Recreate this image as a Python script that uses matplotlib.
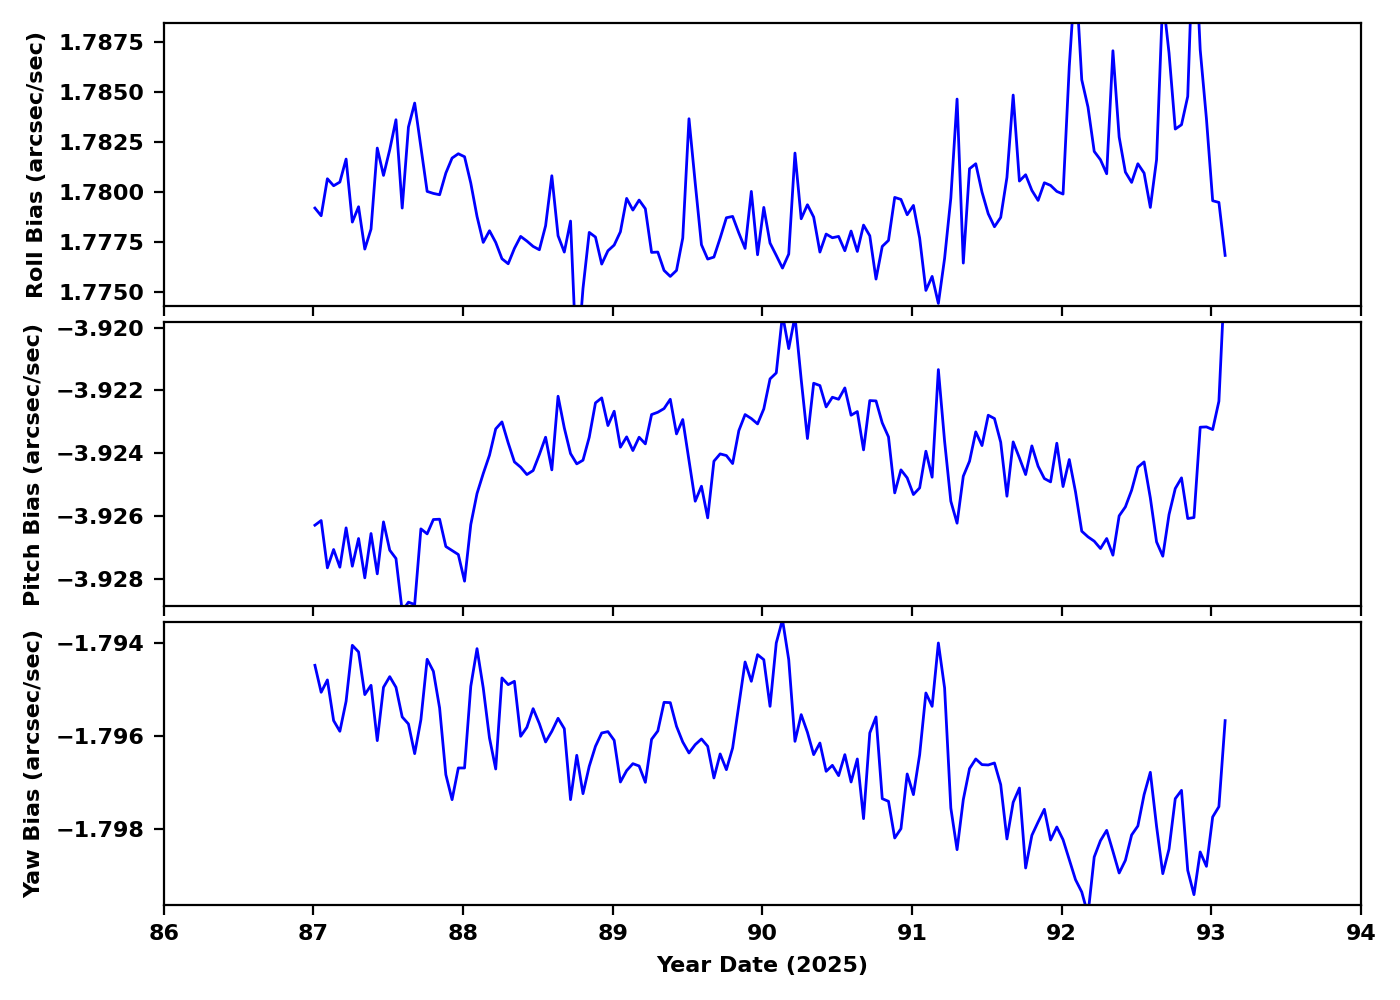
#!/usr/bin/env python3
"""Roll / pitch / yaw gyro bias trend plot"""
import numpy as np
import matplotlib
matplotlib.use("Agg")
import matplotlib.pyplot as plt

# hourly samples starting just after day 87.0
start_day = 87.01
step_day = 1.0 / 24.0

roll = [
    1.779217, 1.778833, 1.780683, 1.780333, 1.780517, 1.781667, 1.778517, 1.779283,
    1.777167, 1.778167, 1.782217, 1.780850, 1.782133, 1.783633, 1.779217, 1.783267,
    1.784467, 1.782267, 1.780050, 1.779950, 1.779883, 1.780967, 1.781717, 1.781933,
    1.781783, 1.780467, 1.778800, 1.777500, 1.778083, 1.777500, 1.776683, 1.776433,
    1.777200, 1.777800, 1.777567, 1.777300, 1.777133, 1.778333, 1.780833, 1.777833,
    1.777017, 1.778567, 1.771200, 1.775200, 1.778000, 1.777767, 1.776417, 1.777083,
    1.777367, 1.778033, 1.779700, 1.779117, 1.779617, 1.779183, 1.777000, 1.777017,
    1.776100, 1.775800, 1.776100, 1.777717, 1.783683, 1.780467, 1.777383, 1.776667,
    1.776767, 1.777717, 1.778733, 1.778800, 1.777967, 1.777200, 1.780050, 1.776883,
    1.779250, 1.777467, 1.776850, 1.776217, 1.776917, 1.781967, 1.778683, 1.779383,
    1.778767, 1.777017, 1.777917, 1.777733, 1.777800, 1.777083, 1.778067, 1.777050,
    1.778367, 1.777833, 1.775667, 1.777300, 1.777600, 1.779750, 1.779650, 1.778883,
    1.779350, 1.777717, 1.775100, 1.775800, 1.774450, 1.776700, 1.779717, 1.784667,
    1.776467, 1.781183, 1.781433, 1.780017, 1.778933, 1.778283, 1.778750, 1.780750,
    1.784867, 1.780567, 1.780883, 1.780100, 1.779600, 1.780483, 1.780350, 1.780050,
    1.779917, 1.786300, 1.791100, 1.785633, 1.784267, 1.782050, 1.781633, 1.780933,
    1.787083, 1.782767, 1.781017, 1.780500, 1.781433, 1.780967, 1.779250, 1.781633,
    1.789800, 1.786967, 1.783167, 1.783383, 1.784800, 1.793900, 1.787133, 1.783683,
    1.779583, 1.779500, 1.776850,
]

pitch = [
    -3.926295, -3.926146, -3.927654, -3.927070, -3.927633, -3.926380, -3.927601, -3.926719,
    -3.927972, -3.926560, -3.927845, -3.926189, -3.927091, -3.927356, -3.929034, -3.928747,
    -3.928822, -3.926412, -3.926571, -3.926114, -3.926104, -3.926974, -3.927102, -3.927229,
    -3.928078, -3.926274, -3.925286, -3.924649, -3.924065, -3.923226, -3.923004, -3.923672,
    -3.924278, -3.924447, -3.924681, -3.924554, -3.924044, -3.923492, -3.924532, -3.922186,
    -3.923195, -3.924012, -3.924341, -3.924224, -3.923492, -3.922398, -3.922239, -3.923120,
    -3.922664, -3.923810, -3.923481, -3.923917, -3.923492, -3.923704, -3.922770, -3.922696,
    -3.922579, -3.922282, -3.923386, -3.922929, -3.924235, -3.925530, -3.925053, -3.926061,
    -3.924256, -3.924023, -3.924076, -3.924331, -3.923280, -3.922770, -3.922897, -3.923067,
    -3.922589, -3.921634, -3.921443, -3.919585, -3.920668, -3.919638, -3.921655, -3.923534,
    -3.921772, -3.921846, -3.922526, -3.922218, -3.922282, -3.921921, -3.922791, -3.922674,
    -3.923895, -3.922324, -3.922335, -3.923035, -3.923481, -3.925265, -3.924532, -3.924787,
    -3.925318, -3.925106, -3.923938, -3.924766, -3.921337, -3.923619, -3.925530, -3.926231,
    -3.924734, -3.924256, -3.923322, -3.923757, -3.922791, -3.922897, -3.923651, -3.925371,
    -3.923641, -3.924150, -3.924681, -3.923768, -3.924416, -3.924808, -3.924915, -3.923683,
    -3.925063, -3.924203, -3.925233, -3.926486, -3.926666, -3.926804, -3.927038, -3.926719,
    -3.927250, -3.925997, -3.925711, -3.925180, -3.924447, -3.924278, -3.925424, -3.926826,
    -3.927282, -3.925955, -3.925127, -3.924787, -3.926082, -3.926051, -3.923173, -3.923163,
    -3.923248, -3.922345, -3.918100,
]

yaw = [
    -1.794475, -1.795056, -1.794790, -1.795666, -1.795896, -1.795250, -1.794044, -1.794187,
    -1.795106, -1.794905, -1.796097, -1.794948, -1.794719, -1.794948, -1.795587, -1.795738,
    -1.796377, -1.795645, -1.794345, -1.794604, -1.795394, -1.796830, -1.797368, -1.796686,
    -1.796686, -1.794927, -1.794116, -1.794963, -1.796040, -1.796708, -1.794747, -1.794891,
    -1.794819, -1.796004, -1.795810, -1.795408, -1.795731, -1.796126, -1.795896, -1.795616,
    -1.795839, -1.797368, -1.796413, -1.797239, -1.796650, -1.796219, -1.795932, -1.795903,
    -1.796090, -1.796988, -1.796743, -1.796593, -1.796643, -1.796995, -1.796069, -1.795889,
    -1.795272, -1.795279, -1.795789, -1.796126, -1.796363, -1.796183, -1.796061, -1.796219,
    -1.796901, -1.796384, -1.796722, -1.796255, -1.795322, -1.794403, -1.794819, -1.794245,
    -1.794353, -1.795358, -1.793994, -1.793491, -1.794353, -1.796112, -1.795537, -1.795918,
    -1.796399, -1.796148, -1.796758, -1.796629, -1.796851, -1.796399, -1.796988, -1.796492,
    -1.797777, -1.795932, -1.795587, -1.797347, -1.797404, -1.798194, -1.797993, -1.796815,
    -1.797260, -1.796399, -1.795071, -1.795358, -1.793994, -1.794963, -1.797548, -1.798445,
    -1.797368, -1.796700, -1.796492, -1.796614, -1.796621, -1.796578, -1.797045, -1.798215,
    -1.797426, -1.797117, -1.798840, -1.798136, -1.797849, -1.797576, -1.798237, -1.797957,
    -1.798230, -1.798661, -1.799091, -1.799357, -1.799845, -1.798603, -1.798251, -1.798029,
    -1.798481, -1.798948, -1.798675, -1.798129, -1.797935, -1.797260, -1.796779, -1.797943,
    -1.798962, -1.798431, -1.797347, -1.797167, -1.798890, -1.799414, -1.798495, -1.798804,
    -1.797741, -1.797519, -1.795666,
]

labels = ["Roll Bias (arcsec/sec)", "Pitch Bias (arcsec/sec)", "Yaw Bias (arcsec/sec)"]
ylims = [(1.7743, 1.78847), (-3.92886, -3.91983), (-1.799637, -1.793533)]

days = start_day + step_day * np.arange(len(roll))

plt.rcParams['font.weight'] = 'bold'
plt.rcParams['axes.labelweight'] = 'bold'
plt.rcParams['font.size'] = 8

fig, axes = plt.subplots(3, 1, figsize=(7, 5), dpi=200, sharex=True)
fig.subplots_adjust(left=0.117, right=0.972, top=0.977, bottom=0.095, hspace=0.056)

for ax, series, lab, lim in zip(axes, [roll, pitch, yaw], labels, ylims):
    ax.plot(days, series, color='blue', linewidth=1.0)
    ax.set_ylabel(lab)
    ax.set_ylim(lim)

axes[-1].set_xlim(86, 94)
axes[-1].set_xlabel("Year Date (2025)")

plt.savefig("out.png", dpi=200)
print("saved out.png")
